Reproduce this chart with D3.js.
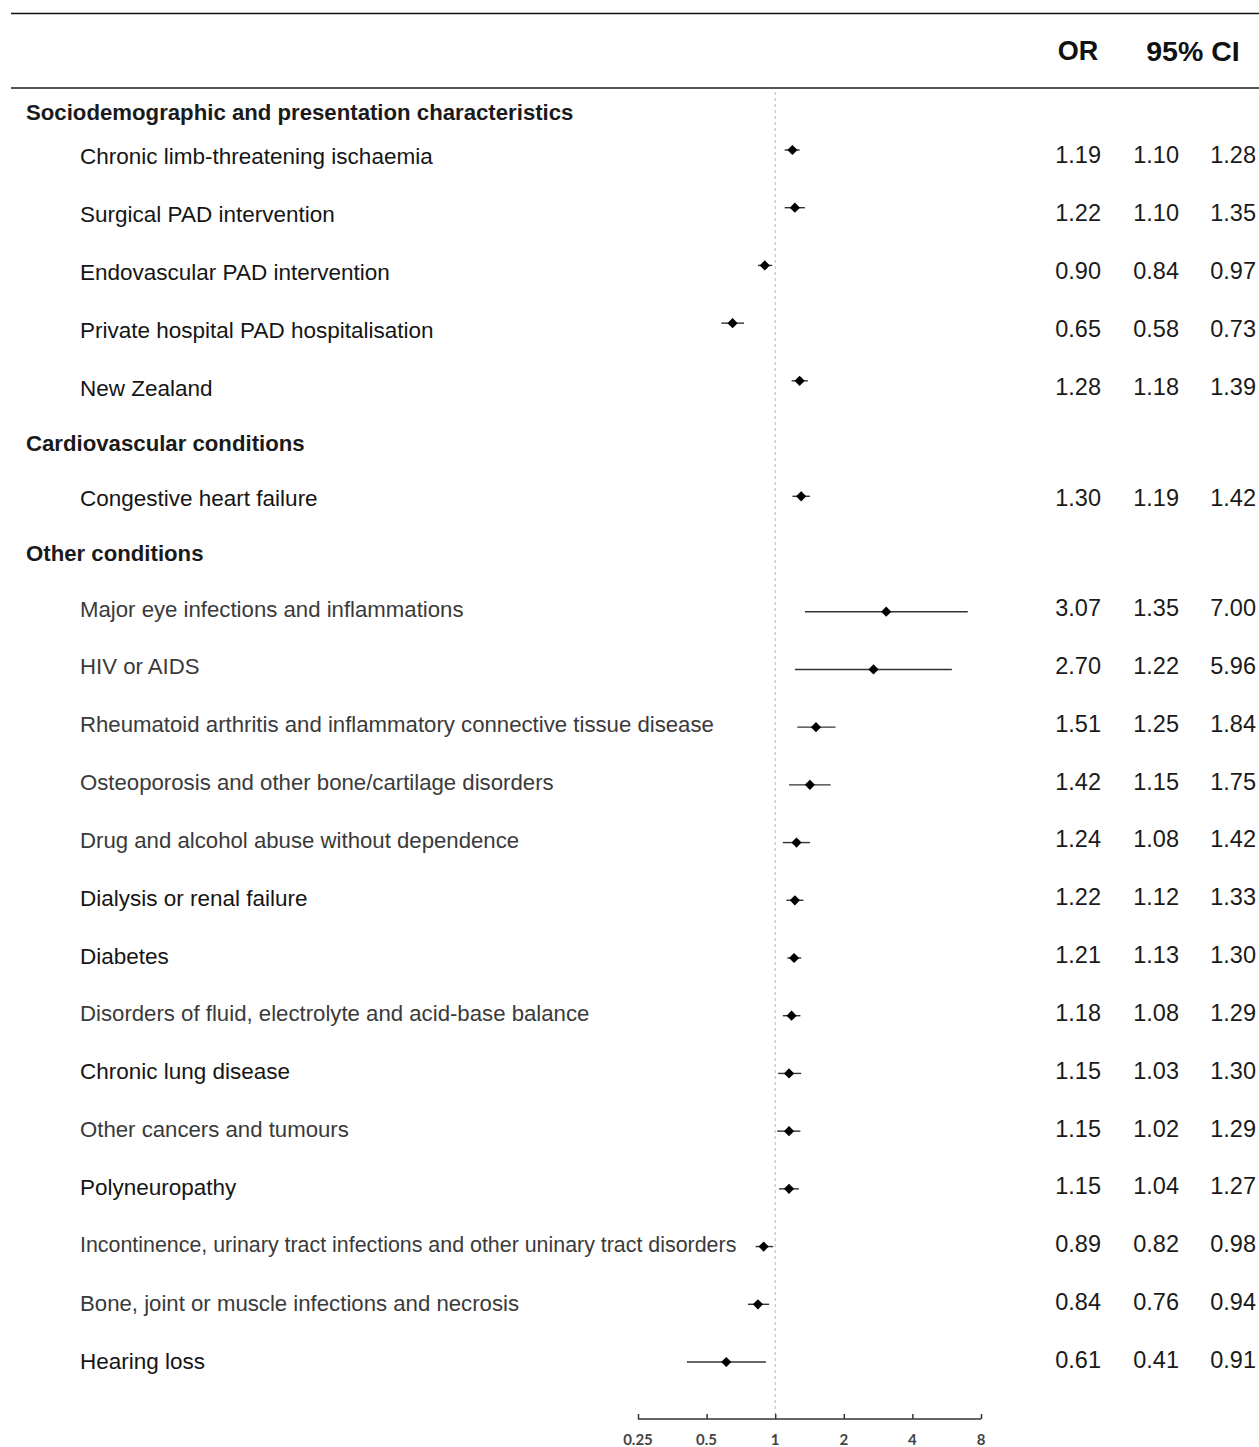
<!DOCTYPE html>
<html>
<head>
<meta charset="utf-8">
<script src="https://cdn.jsdelivr.net/npm/d3@7"></script>
<style>
  html, body { margin: 0; padding: 0; background: #fff; }
  svg { display: block; }
</style>
</head>
<body>
<svg id="chart" width="1259" height="1447"></svg>
<script>
// ---- data ----
const sections = [
  { title: "Sociodemographic and presentation characteristics", slot: 0 },
  { title: "Cardiovascular conditions", slot: 6 },
  { title: "Other conditions", slot: 8 }
];
const labels = [
  "Chronic limb-threatening ischaemia",
  "Surgical PAD intervention",
  "Endovascular PAD intervention",
  "Private hospital PAD hospitalisation",
  "New Zealand",
  "Congestive heart failure",
  "Major eye infections and inflammations",
  "HIV or AIDS",
  "Rheumatoid arthritis and inflammatory connective tissue disease",
  "Osteoporosis and other bone/cartilage disorders",
  "Drug and alcohol abuse without dependence",
  "Dialysis or renal failure",
  "Diabetes",
  "Disorders of fluid, electrolyte and acid-base balance",
  "Chronic lung disease",
  "Other cancers and tumours",
  "Polyneuropathy",
  "Incontinence, urinary tract infections and other uninary tract disorders",
  "Bone, joint or muscle infections and necrosis",
  "Hearing loss"
];
const rowSlots = [1,2,3,4,5,7,9,10,11,12,13,14,15,16,17,18,19,20,21,22];
const orValues = [1.19,1.22,0.90,0.65,1.28,1.30,3.07,2.70,1.51,1.42,1.24,1.22,1.21,1.18,1.15,1.15,1.15,0.89,0.84,0.61];
const ciLower  = [1.10,1.10,0.84,0.58,1.18,1.19,1.35,1.22,1.25,1.15,1.08,1.12,1.13,1.08,1.03,1.02,1.04,0.82,0.76,0.41];
const ciUpper  = [1.28,1.35,0.97,0.73,1.39,1.42,7.00,5.96,1.84,1.75,1.42,1.33,1.30,1.29,1.30,1.29,1.27,0.98,0.94,0.91];
const tickValues = [0.25, 0.5, 1, 2, 4, 8];
const tickLabels = ["0.25", "0.5", "1", "2", "4", "8"];
const headers = ["OR", "95% CI"];

// ---- styling (not data) ----
const lightRows = new Set([6, 7, 8, 9, 10, 13, 15, 17, 18]);
const labelSize = i => i === 17 ? 21.4 : (lightRows.has(i) ? 22.2 : 22.5);
const labelColor = i => lightRows.has(i) ? "#3a3a3a" : "#151515";

// ---- layout ----
const svg = d3.select("#chart");
const W = 1259;
const FONT = "'Liberation Sans', Arial, Helvetica, sans-serif";
const x = d3.scaleLog().base(2).domain([0.25, 8]).range([638, 981]);
const yText = d3.scaleLinear().domain([1, 5, 9, 22]).range([156, 388, 609, 1361]);
const yMark = d3.scaleLinear().domain([1, 22]).range([150, 1362]);

const rows = labels.map((l, i) => ({
  i, label: l, slot: rowSlots[i], or: orValues[i], lo: ciLower[i], hi: ciUpper[i]
}));

// header rules
svg.append("line").attr("x1", 11).attr("x2", W).attr("y1", 13.5).attr("y2", 13.5)
  .attr("stroke", "#111").attr("stroke-width", 1.6);
svg.append("line").attr("x1", 11).attr("x2", W).attr("y1", 88).attr("y2", 88)
  .attr("stroke", "#555").attr("stroke-width", 2);

// header texts
svg.append("text").attr("x", 1078).attr("y", 51).attr("text-anchor", "middle")
  .attr("dominant-baseline", "central")
  .style("font-family", FONT).style("font-weight", "bold")
  .style("font-size", "27px").attr("fill", "#111").text(headers[0]);
svg.append("text").attr("x", 1193).attr("y", 51).attr("text-anchor", "middle")
  .attr("dominant-baseline", "central")
  .style("font-family", FONT).style("font-weight", "bold")
  .style("font-size", "28.5px").attr("fill", "#111").text(headers[1]);

// reference line at OR = 1
svg.append("line").attr("x1", x(1)).attr("x2", x(1)).attr("y1", 92).attr("y2", 1418)
  .attr("stroke", "#b5b5b5").attr("stroke-width", 1).attr("stroke-dasharray", "3,3");

// section titles
const secY = s => s === 0 ? 112 : yText(s);
svg.selectAll("text.section").data(sections).join("text")
  .attr("class", "section")
  .attr("x", 26).attr("y", d => secY(d.slot))
  .attr("dominant-baseline", "central")
  .style("font-family", FONT).style("font-weight", "bold")
  .style("font-size", "22.2px").attr("fill", "#1a1a1a")
  .text(d => d.title);

// row labels
svg.selectAll("text.rowlab").data(rows).join("text")
  .attr("class", "rowlab")
  .attr("x", 80).attr("y", d => yText(d.slot))
  .attr("dominant-baseline", "central")
  .style("font-family", FONT)
  .style("font-size", d => labelSize(d.i) + "px").attr("fill", d => labelColor(d.i))
  .text(d => d.label);

// CI lines
svg.selectAll("line.ci").data(rows).join("line")
  .attr("class", "ci")
  .attr("x1", d => x(d.lo)).attr("x2", d => x(d.hi))
  .attr("y1", d => yMark(d.slot)).attr("y2", d => yMark(d.slot))
  .attr("stroke", "#333").attr("stroke-width", 1.4);

// diamonds
const diamond = d3.symbol().type(d3.symbolSquare).size(52);
svg.selectAll("path.pt").data(rows).join("path")
  .attr("class", "pt")
  .attr("d", diamond)
  .attr("transform", d => `translate(${x(d.or)},${yMark(d.slot)}) rotate(45)`)
  .attr("fill", "#000");

// numeric columns
const fmt = d3.format(".2f");
const cols = [
  { key: "or", xr: 1101 },
  { key: "lo", xr: 1179 },
  { key: "hi", xr: 1256 }
];
cols.forEach(c => {
  svg.selectAll("text.num-" + c.key).data(rows).join("text")
    .attr("class", "num-" + c.key)
    .attr("x", c.xr).attr("y", d => yText(d.slot) - 1)
    .attr("text-anchor", "end")
    .attr("dominant-baseline", "central")
    .style("font-family", FONT)
    .style("font-size", "23.5px").attr("fill", "#1a1a1a")
    .text(d => fmt(d[c.key]));
});

// axis
const axis = d3.axisTop(x).tickValues(tickValues).tickSize(5).tickFormat(() => "");
const ax = svg.append("g").attr("transform", "translate(0,1419)").call(axis);
ax.select(".domain").attr("stroke", "#333").attr("stroke-width", 1.5)
  .attr("d", `M${x(0.25)},0H${x(8)}`);
ax.selectAll(".tick line").attr("stroke", "#333").attr("stroke-width", 1.5);
svg.selectAll("text.tl").data(tickValues).join("text")
  .attr("class", "tl")
  .attr("x", d => x(d)).attr("y", 1439)
  .attr("text-anchor", "middle").attr("dominant-baseline", "central")
  .style("font-family", "Lato, 'Open Sans', sans-serif").style("font-weight", "bold")
  .style("font-size", "15px").attr("fill", "#444")
  .text((d, i) => tickLabels[i]);
</script>
</body>
</html>
